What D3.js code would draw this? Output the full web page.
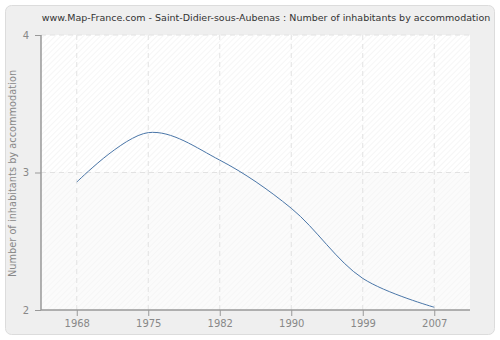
<!DOCTYPE html>
<html>
<head>
<meta charset="utf-8">
<script src="https://cdn.jsdelivr.net/npm/d3@7"></script>
<style>
  body { margin: 0; background: #fff; }
  svg { display: block; font-family: "DejaVu Sans", Verdana, sans-serif; }
</style>
</head>
<body>
<svg id="chart" width="500" height="340"></svg>
<script>
const years = ["1968", "1975", "1982", "1990", "1999", "2007"];
const values = [2.93, 3.29, 3.09, 2.74, 2.23, 2.02];
const yTicks = [2, 3, 4];
const title = "www.Map-France.com - Saint-Didier-sous-Aubenas : Number of inhabitants by accommodation";
const yLabel = "Number of inhabitants by accommodation";

const svg = d3.select("#chart");
const margin = { top: 35, right: 30, bottom: 30, left: 41 };
const width = 500, height = 340;

// outer frame
svg.append("rect")
  .attr("x", 5.5).attr("y", 5.5)
  .attr("width", 489).attr("height", 329)
  .attr("rx", 6)
  .attr("fill", "#efefef")
  .attr("stroke", "#dcdcdc");

// hatch patterns
const defs = svg.append("defs");
const mkPattern = (id, bg, line) => {
  const p = defs.append("pattern")
    .attr("id", id)
    .attr("width", 4).attr("height", 4)
    .attr("patternUnits", "userSpaceOnUse")
    .attr("patternTransform", "rotate(45)");
  p.append("rect").attr("width", 4).attr("height", 4).attr("fill", bg);
  p.append("line").attr("x1", 0).attr("y1", 0).attr("x2", 0).attr("y2", 4)
    .attr("stroke", line).attr("stroke-width", 1.2);
};
mkPattern("hatchTop", "#ffffff", "#f0f0f0");
mkPattern("hatchBot", "#fbfbfb", "#f4f4f4");

const x = d3.scalePoint()
  .domain(years)
  .range([margin.left, width - margin.right])
  .padding(0.5);

const y = d3.scaleLinear()
  .domain([2, 4])
  .range([height - margin.bottom, margin.top]);

// plot background
svg.append("rect")
  .attr("x", margin.left).attr("y", y(4))
  .attr("width", width - margin.right - margin.left)
  .attr("height", y(3) - y(4))
  .attr("fill", "url(#hatchTop)");
svg.append("rect")
  .attr("x", margin.left).attr("y", y(3))
  .attr("width", width - margin.right - margin.left)
  .attr("height", y(2) - y(3))
  .attr("fill", "url(#hatchBot)");

// grid lines
svg.append("g")
  .selectAll("line")
  .data(years)
  .join("line")
  .attr("x1", d => x(d)).attr("x2", d => x(d))
  .attr("y1", y(4)).attr("y2", y(2))
  .attr("stroke", "#e2e2e2")
  .attr("stroke-dasharray", "5,4");

svg.append("g")
  .selectAll("line")
  .data(yTicks.slice(1))
  .join("line")
  .attr("x1", margin.left).attr("x2", width - margin.right)
  .attr("y1", d => y(d)).attr("y2", d => y(d))
  .attr("stroke", "#e2e2e2")
  .attr("stroke-dasharray", "5,4");

// axes
const xAxis = svg.append("g")
  .attr("transform", `translate(0,${y(2)})`)
  .call(d3.axisBottom(x).tickSize(6).tickSizeOuter(0).tickPadding(4));
const yAxis = svg.append("g")
  .attr("transform", `translate(${margin.left},0)`)
  .call(d3.axisLeft(y).tickValues(yTicks).tickFormat(d3.format("d")).tickSize(6).tickSizeOuter(0).tickPadding(6));

[xAxis, yAxis].forEach(a => {
  a.select(".domain").attr("stroke", "#999").attr("stroke-width", 1.5);
  a.selectAll(".tick line").attr("stroke", "#999");
  a.selectAll(".tick text")
    .attr("fill", "#888")
    .style("font-size", "10px")
    .style("font-family", "'DejaVu Sans', Verdana, sans-serif");
});
xAxis.select(".domain").attr("d", `M${margin.left},0H${width - margin.right}`);
yAxis.select(".domain").attr("d", `M0,${y(2)}V${y(4)}`);
yAxis.selectAll(".tick line").attr("x1", 0).attr("x2", -6);

// line
const line = d3.line()
  .x((d, i) => x(years[i]))
  .y(d => y(d))
  .curve(d3.curveCatmullRom.alpha(0.5));

svg.append("path")
  .datum(values)
  .attr("fill", "none")
  .attr("stroke", "#4a76a8")
  .attr("stroke-width", 1)
  .attr("d", line);

// title
svg.append("text")
  .attr("x", 266).attr("y", 21)
  .attr("text-anchor", "middle")
  .attr("fill", "#333")
  .style("font-size", "9.5px")
  .text(title);

// y label
svg.append("text")
  .attr("transform", `translate(16,${(y(2) + y(4)) / 2 + 1}) rotate(-90)`)
  .attr("text-anchor", "middle")
  .attr("fill", "#888")
  .style("font-size", "9.8px")
  .text(yLabel);
</script>
</body>
</html>
